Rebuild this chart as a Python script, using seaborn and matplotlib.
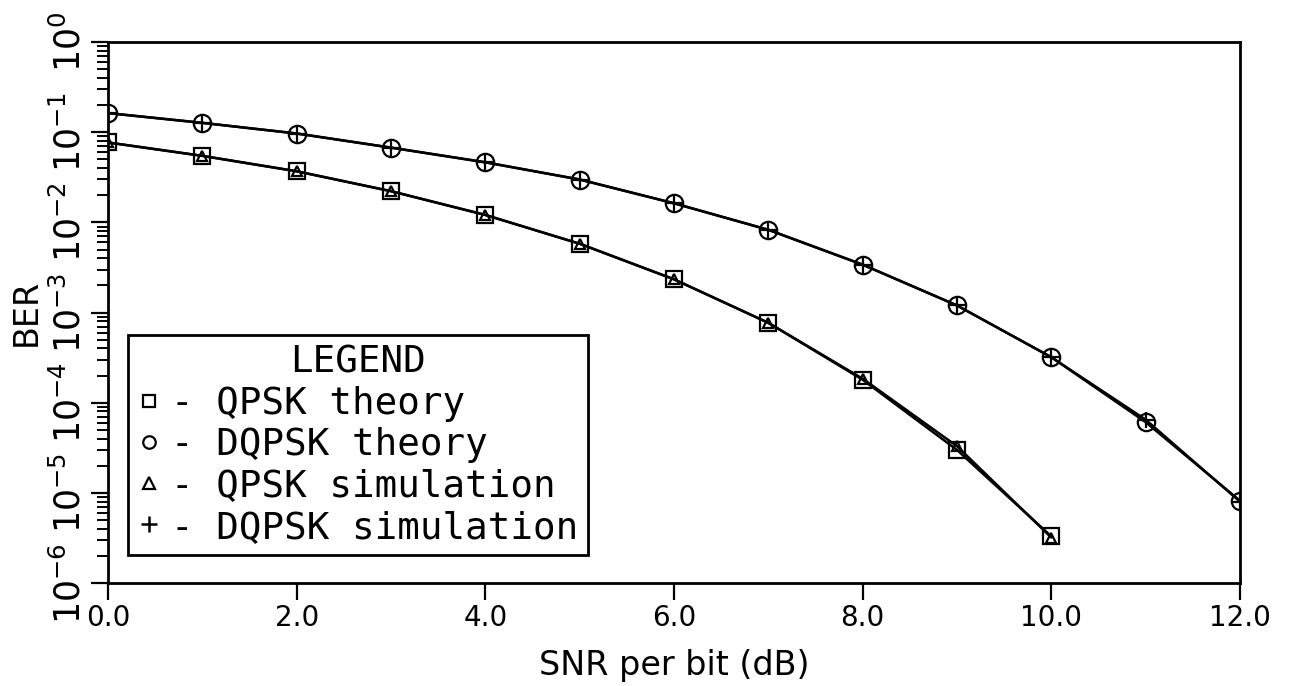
import matplotlib
matplotlib.use("Agg")
import matplotlib.pyplot as plt
import seaborn as sns
from matplotlib.lines import Line2D
from matplotlib.ticker import FixedLocator, LogLocator, NullFormatter

# Bit error rate versus SNR per bit
snr_qpsk = [0, 1, 2, 3, 4, 5, 6, 7, 8, 9, 10]
ber_qpsk_theory = [0.077, 0.0547, 0.0369, 0.0222, 0.0121, 0.0058,
                   0.00234, 7.7e-4, 1.8e-4, 3.0e-5, 3.3e-6]
ber_qpsk_sim = [0.077, 0.0547, 0.0369, 0.0222, 0.0121, 0.0058,
                0.00234, 7.7e-4, 1.85e-4, 3.3e-5, 3.2e-6]

snr_dqpsk = [0, 1, 2, 3, 4, 5, 6, 7, 8, 9, 10, 11, 12]
ber_dqpsk_theory = [0.163, 0.127, 0.0968, 0.0675, 0.0464, 0.0299, 0.0163,
                    0.00828, 0.0034, 0.0012, 3.2e-4, 6.1e-5, 8.2e-6]
ber_dqpsk_sim = [0.163, 0.127, 0.0968, 0.0675, 0.0464, 0.0299, 0.0163,
                 0.00828, 0.0034, 0.0012, 3.2e-4, 6.5e-5, 8.0e-6]

x_ticks = [0, 2, 4, 6, 8, 10, 12]
x_tick_labels = ["0.0", "2.0", "4.0", "6.0", "8.0", "10.0", "12.0"]
y_ticks = [1e-6, 1e-5, 1e-4, 1e-3, 1e-2, 1e-1, 1e0]
y_tick_labels = [r"$10^{-6}$", r"$10^{-5}$", r"$10^{-4}$", r"$10^{-3}$",
                 r"$10^{-2}$", r"$10^{-1}$", r"$10^{0}$"]

legend_title = "LEGEND"
legend_labels = ["- QPSK theory", "- DQPSK theory",
                 "- QPSK simulation", "- DQPSK simulation"]

ink = "black"
sns.set_theme(style="ticks")
plt.rcParams["font.family"] = ["DejaVu Sans"]
plt.rcParams["mathtext.fontset"] = "dejavusans"
plt.rcParams["text.color"] = ink
plt.rcParams["axes.labelcolor"] = ink
plt.rcParams["xtick.color"] = ink
plt.rcParams["ytick.color"] = ink

fig = plt.figure(figsize=(12.9, 6.86), dpi=100)
ax = fig.add_axes([0.0837, 0.150, 0.8775, 0.7887])

line_kw = dict(color=ink, linewidth=1.8, markerfacecolor="none",
               markeredgecolor=ink, markeredgewidth=1.6, ax=ax, legend=False)

sns.lineplot(x=snr_qpsk, y=ber_qpsk_theory, marker="s", markersize=12, **line_kw)
sns.lineplot(x=snr_qpsk, y=ber_qpsk_sim, marker="^", markersize=7, **line_kw)
sns.lineplot(x=snr_dqpsk, y=ber_dqpsk_theory, marker="o", markersize=12.5, **line_kw)
sns.lineplot(x=snr_dqpsk, y=ber_dqpsk_sim, marker="+", markersize=12, **line_kw)

ax.set_yscale("log")
ax.set_xlim(0, 12)
ax.set_ylim(1e-6, 1e0)

ax.xaxis.set_major_locator(FixedLocator(x_ticks))
ax.set_xticklabels(x_tick_labels, fontsize=20)
ax.yaxis.set_major_locator(FixedLocator(y_ticks))
ax.yaxis.set_minor_locator(LogLocator(base=10, subs=range(2, 10), numticks=20))
ax.yaxis.set_minor_formatter(NullFormatter())
ax.set_yticklabels(y_tick_labels, fontsize=25)
for lbl in ax.get_yticklabels():
    lbl.set_rotation(90)
    lbl.set_va("center")
    lbl.set_ha("right")

ax.tick_params(axis="both", which="major", direction="out", length=12,
               width=1.6, color=ink, labelcolor=ink)
ax.tick_params(axis="x", pad=3)
ax.tick_params(axis="y", pad=3)
ax.tick_params(axis="y", which="minor", direction="out", length=8,
               width=1.4, color=ink)

for side in ["left", "right", "top", "bottom"]:
    ax.spines[side].set_visible(True)
    ax.spines[side].set_linewidth(2)
    ax.spines[side].set_color(ink)

ax.set_xlabel("SNR per bit (dB)", fontsize=24, color=ink, labelpad=12)
ax.set_ylabel("BER", fontsize=24, color=ink, labelpad=6)
ax.grid(False)

mk = dict(linestyle="none", markerfacecolor="none", markeredgecolor=ink)
handles = [
    Line2D([], [], marker="s", markersize=9, markeredgewidth=1.6, **mk),
    Line2D([], [], marker="o", markersize=9, markeredgewidth=1.6, **mk),
    Line2D([], [], marker="^", markersize=9, markeredgewidth=1.6, **mk),
    Line2D([], [], marker="+", markersize=11, markeredgewidth=1.8, **mk),
]
legend_font = {"family": "DejaVu Sans Mono", "size": 27}
leg = ax.legend(handles, legend_labels, title=legend_title, loc="lower left",
                bbox_to_anchor=(0.0177, 0.052), borderaxespad=0,
                prop=legend_font, title_fontproperties=legend_font,
                frameon=True, fancybox=False,
                handlelength=0.6, handletextpad=0.3, labelspacing=0.14,
                borderpad=0.25)
leg.get_frame().set_edgecolor(ink)
leg.get_frame().set_linewidth(2)
leg.get_frame().set_facecolor("white")
leg.get_frame().set_alpha(1)

fig.savefig("out.png", dpi=100, facecolor="white")
